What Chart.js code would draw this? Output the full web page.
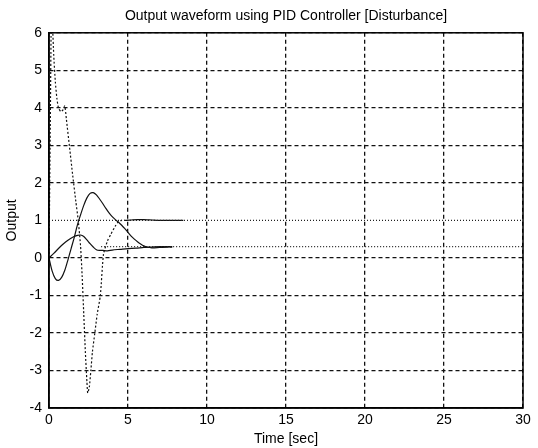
<!DOCTYPE html>
<html>
<head>
<meta charset="utf-8">
<script src="https://cdn.jsdelivr.net/npm/chart.js@4.4.0/dist/chart.umd.min.js"></script>
<style>
  html, body { margin: 0; padding: 0; background: #fff; }
  #wrap { width: 538px; height: 448px; }
</style>
</head>
<body>
<div id="wrap"><canvas id="chart" width="538" height="448"></canvas></div>
<script>
// values
const xTicks = [0, 5, 10, 15, 20, 25, 30];
const yTicks = [-4, -3, -2, -1, 0, 1, 2, 3, 4, 5, 6];

// solid output with the big overshoot
const t1 = [0, 0.2, 0.4, 0.6, 0.8, 1.0, 1.2, 1.4, 1.6, 1.8, 2.0, 2.2, 2.4, 2.6, 2.8, 3.0, 3.2, 3.4, 3.6, 3.8, 4.0, 4.2, 4.4, 4.6, 4.8, 5.0, 5.2, 5.4, 5.6, 5.8, 6.0, 6.2, 6.5, 7.0, 7.5, 7.8];
const y1 = [0, -0.35, -0.55, -0.6, -0.52, -0.33, -0.05, 0.25, 0.55, 0.88, 1.15, 1.4, 1.6, 1.72, 1.74, 1.68, 1.57, 1.45, 1.32, 1.2, 1.1, 1.02, 0.95, 0.87, 0.78, 0.68, 0.58, 0.5, 0.43, 0.37, 0.32, 0.29, 0.27, 0.28, 0.29, 0.29];

// solid output with the small hump
const t2 = [0, 0.3, 0.6, 0.9, 1.2, 1.5, 1.8, 2.0, 2.2, 2.4, 2.6, 2.8, 3.0, 3.2, 3.4, 3.7, 4.0, 4.5, 5.0, 5.5, 6.0, 6.5, 7.0, 7.5, 7.8];
const y2 = [0, 0.12, 0.25, 0.37, 0.47, 0.55, 0.6, 0.61, 0.57, 0.48, 0.38, 0.29, 0.22, 0.2, 0.2, 0.19, 0.21, 0.23, 0.25, 0.26, 0.28, 0.29, 0.3, 0.3, 0.3];

// dotted swing (-3.6 dip), settles at 1
const t3 = [0, 0.08, 0.15, 0.22, 0.3, 0.4, 0.5, 0.6, 0.75, 0.9, 1.0, 1.1, 1.3, 1.5, 1.7, 1.85, 2.0, 2.1, 2.2, 2.3, 2.4, 2.45, 2.55, 2.65, 2.75, 2.9, 3.05, 3.25, 3.45, 3.7, 3.9, 4.2, 4.4, 4.6, 4.8, 5.2, 5.6, 6.0, 6.5, 7.0, 7.5, 8.0, 8.5];
const y3 = [0, 3.5, 6.5, 6.2, 5.4, 4.7, 4.25, 4.0, 3.9, 3.95, 4.05, 3.7, 2.95, 2.2, 1.5, 1.0, 0.3, -0.5, -1.5, -2.5, -3.3, -3.6, -3.45, -3.0, -2.5, -2.0, -1.5, -1.0, 0.1, 0.45, 0.62, 0.85, 0.97, 1.0, 1.0, 1.01, 1.02, 1.02, 1.01, 1.0, 1.0, 1.0, 1.0];

// reference levels
const tRef1 = [0, 30];
const yRef1 = [1, 1];
const tRef2 = [3.3, 30];
const yRef2 = [0.3, 0.3];

const FONT = "Liberation Sans, Arial, sans-serif";

const zip = (xs, ys) => xs.map((x, i) => ({x: x, y: ys[i]}));

// frame round the plot, like matlab
const framePlugin = {
    id: "frame",
    afterDraw(chart) {
        const a = chart.chartArea;
        const ctx = chart.ctx;
        ctx.save();
        ctx.strokeStyle = "#000";
        ctx.lineWidth = 1.5;
        ctx.strokeRect(a.left, a.top, a.right - a.left, a.bottom - a.top);
        ctx.restore();
    }
};

const lineBase = {
    borderColor: "#111",
    borderWidth: 1.2,
    pointRadius: 0,
    fill: false,
    tension: 0.3
};

new Chart(document.getElementById("chart"), {
    type: "line",
    data: {
        datasets: [
            Object.assign({}, lineBase, {label: "ref 1", data: zip(tRef1, yRef1), borderDash: [1, 2], borderWidth: 1.3, borderColor: "#222", tension: 0}),
            Object.assign({}, lineBase, {label: "ref 2", data: zip(tRef2, yRef2), borderDash: [1, 2], borderWidth: 1.3, borderColor: "#222", tension: 0}),
            Object.assign({}, lineBase, {label: "y1", data: zip(t1, y1)}),
            Object.assign({}, lineBase, {label: "y2", data: zip(t2, y2)}),
            Object.assign({}, lineBase, {
                label: "y3", data: zip(t3, y3), tension: 0.2,
                segment: {
                    borderDash: ctx => ctx.p0.parsed.x >= 4.8 ? [] : [2, 2]
                }
            })
        ]
    },
    options: {
        responsive: false,
        animation: false,
        layout: {padding: {left: 0, right: 15, top: 0, bottom: 0}},
        plugins: {
            legend: {display: false},
            tooltip: {enabled: false},
            title: {
                display: true,
                fullSize: false,
                text: "Output waveform using PID Controller [Disturbance]",
                color: "#000",
                font: {family: FONT, size: 14, weight: "normal"},
                padding: {top: 8, bottom: 8}
            }
        },
        scales: {
            x: {
                type: "linear",
                min: 0,
                max: 30,
                afterBuildTicks: scale => { scale.ticks = xTicks.map(v => ({value: v})); },
                afterFit: scale => { scale.height = 40; },
                grid: {color: "#111", lineWidth: 1.3, drawTicks: false},
                border: {display: true, color: "#000", width: 1.5, dash: [4, 3]},
                ticks: {color: "#000", padding: 4, maxRotation: 0, font: {family: FONT, size: 14}},
                title: {display: true, text: "Time [sec]", color: "#000", padding: {top: 0, bottom: 0},
                        font: {family: FONT, size: 14}}
            },
            y: {
                min: -4,
                max: 6,
                afterBuildTicks: scale => { scale.ticks = yTicks.map(v => ({value: v})); },
                afterFit: scale => { scale.width = 49; },
                grid: {
                    color: ctx => ctx.tick && ctx.tick.value === 1 ? "rgba(0,0,0,0)" : "#111",
                    lineWidth: 1.3,
                    drawTicks: false
                },
                border: {display: true, color: "#000", width: 1.5, dash: [4, 3]},
                ticks: {color: "#000", padding: 7, font: {family: FONT, size: 14}},
                title: {display: true, text: "Output", color: "#000", padding: {top: 4, bottom: 0},
                        font: {family: FONT, size: 14}}
            }
        }
    },
    plugins: [framePlugin]
});
</script>
</body>
</html>
